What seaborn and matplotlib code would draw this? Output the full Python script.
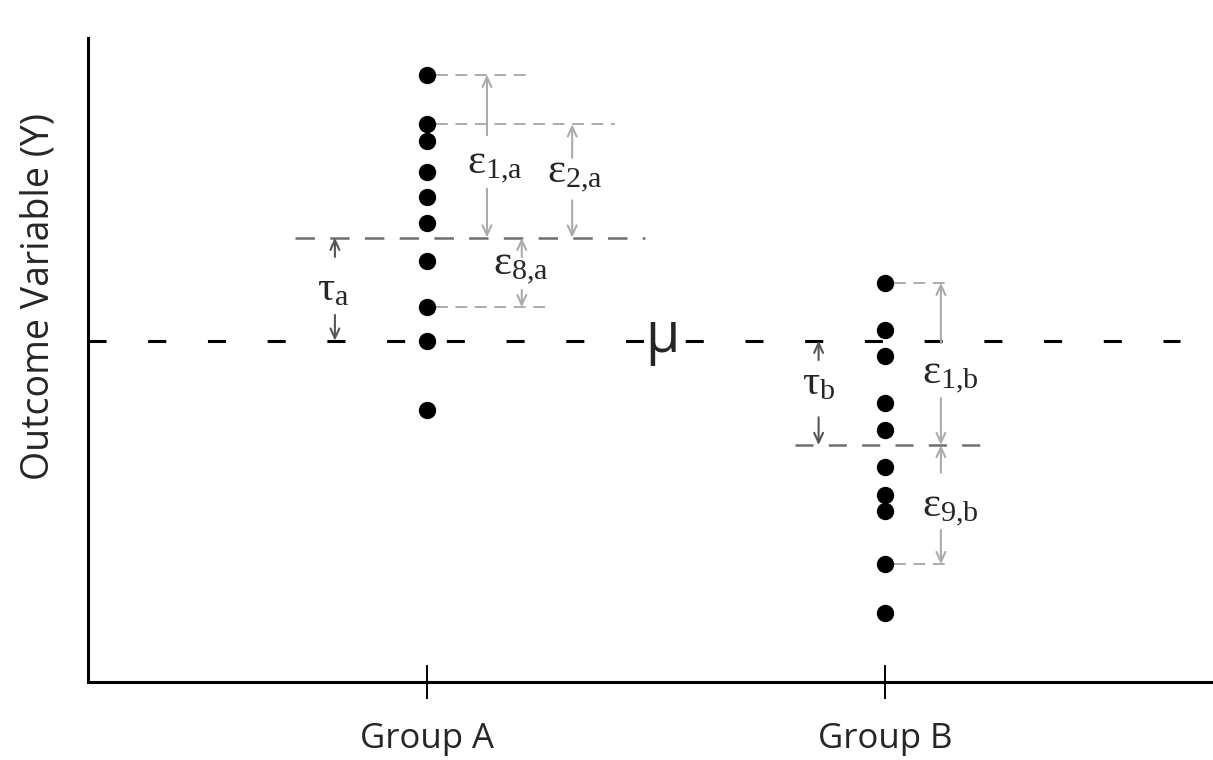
import numpy as np
import matplotlib.pyplot as plt
import seaborn as sns
import pandas as pd

# values (outcome units, 0 at the x axis)
groups = ['Group A', 'Group B']
group_a = [9.43, 8.66, 8.40, 7.92, 7.53, 7.13, 6.54, 5.82, 5.30, 4.22]
group_b = [6.20, 5.47, 5.06, 4.33, 3.92, 3.34, 2.90, 2.66, 1.83, 1.07]
grand_mean = 5.30
group_means = [6.90, 3.68]

df = pd.DataFrame({'group': [groups[0]] * len(group_a) + [groups[1]] * len(group_b),
                   'value': group_a + group_b})

sns.set_style('white')
plt.rcParams['font.family'] = ['Open Sans', 'DejaVu Sans']
plt.rcParams['lines.scale_dashes'] = False

LIGHT = '#ababab'
MID = '#6e6e6e'
DARK = '#555555'
SERIF = 'Liberation Serif'

fig = plt.figure(figsize=(12.13, 7.6), dpi=100)
ax = fig.add_axes([88 / 1213, 78 / 760, 1125 / 1213, 644 / 760])

sns.stripplot(data=df, x='group', y='value', order=groups, jitter=False,
              color='black', size=12.5, linewidth=0, zorder=5, ax=ax)

mean_a, mean_b = group_means

# grand mean and group means
ax.hlines(grand_mean, -0.74, 1.644, color='black', lw=2.2, ls=(0, (13, 30)), zorder=2)
ax.hlines(mean_a, -0.288, 0.476, color=MID, lw=1.8, ls=(0, (14, 11)), zorder=2)
ax.hlines(mean_b, 0.803, 1.207, color=MID, lw=1.8, ls=(0, (13, 11)), zorder=2)

# guides from single observations
light_ls = (0, (8.5, 5.5))
ax.hlines(group_a[0], 0.02, 0.218, color=LIGHT, lw=1.4, ls=light_ls)
ax.hlines(group_a[1], 0.02, 0.410, color=LIGHT, lw=1.4, ls=light_ls)
ax.hlines(group_a[7], 0.02, 0.264, color=LIGHT, lw=1.4, ls=light_ls)
ax.hlines(group_b[0], 1.02, 1.142, color=LIGHT, lw=1.4, ls=light_ls)
ax.hlines(group_b[8], 1.02, 1.142, color=LIGHT, lw=1.4, ls=light_ls)


def arrow(x, y_from, y_to, color):
    ax.annotate('', xy=(x, y_to), xytext=(x, y_from),
                arrowprops=dict(arrowstyle='->,head_length=0.7,head_width=0.32',
                                color=color, lw=1.5, shrinkA=0, shrinkB=0))


def label(x, y, sym, sub):
    sub = sub.replace(',', '{,}')
    ax.text(x, y, r'$\mathregular{%s_{%s}}$' % (sym, sub), fontfamily=SERIF,
            fontsize=31, ha='left', va='baseline')


# epsilon 1,a
arrow(0.131, 8.49, group_a[0], LIGHT)
arrow(0.131, 7.66, mean_a, LIGHT)
label(0.087, 7.90, 'ε', '1,a')
# epsilon 2,a
arrow(0.317, 8.14, group_a[1], LIGHT)
arrow(0.317, 7.48, mean_a, LIGHT)
label(0.262, 7.75, 'ε', '2,a')
# epsilon 8,a
arrow(0.207, 6.60, mean_a, LIGHT)
arrow(0.207, 6.09, group_a[7], LIGHT)
label(0.144, 6.32, 'ε', '8,a')
# tau a
arrow(-0.201, 6.60, mean_a, DARK)
arrow(-0.201, 5.70, grand_mean, DARK)
label(-0.240, 5.93, 'τ', 'a')
# tau b
arrow(0.855, 5.00, grand_mean, DARK)
arrow(0.855, 4.11, mean_b, DARK)
label(0.819, 4.46, 'τ', 'b')
# epsilon 1,b
arrow(1.122, 5.26, group_b[0], LIGHT)
arrow(1.122, 4.41, mean_b, LIGHT)
label(1.081, 4.64, 'ε', '1,b')
# epsilon 9,b
arrow(1.122, 3.25, mean_b, LIGHT)
arrow(1.122, 2.36, group_b[8], LIGHT)
label(1.081, 2.56, 'ε', '9,b')

ax.text(0.513, grand_mean - 0.18, 'μ', fontsize=40, ha='center', va='baseline')

ax.set_xlim(-0.74, 1.716)
ax.set_ylim(0, 10)
ax.set_yticks([])
ax.set_xlabel('')
ax.set_ylabel('Outcome Variable (Y)', fontsize=27)
ax.yaxis.set_label_coords(-0.027, 0.598)
ax.tick_params(axis='x', bottom=True, direction='inout', length=24, width=1.4,
               color='black', labelsize=25, pad=17)
sns.despine(ax=ax)
for side in ['left', 'bottom']:
    ax.spines[side].set_linewidth(2.2)
    ax.spines[side].set_color('black')

fig.savefig('out.png', dpi=100)
